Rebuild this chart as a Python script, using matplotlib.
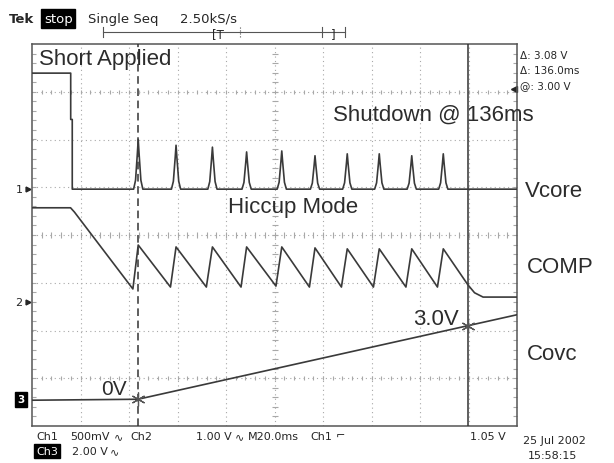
import matplotlib.pyplot as plt
from matplotlib.lines import Line2D
import numpy as np

W, H = 614, 464

# screen: 10 x 8 divisions, 20 ms/div
time_span = [0.0, 200.0]
div_span = [-4.0, 4.0]

# volts/div and ground marker (divisions from centre) for each channel
volts_per_div = {"vcore": 0.5, "comp": 1.0, "covc": 2.0}
ground_div = {"vcore": 0.96, "comp": -1.40, "covc": -3.44}

# cursors (ms)
cursor_t = [43.7, 179.7]

# Ch1 Vcore: level before / at the short, then hiccup spikes
vcore_step_t = [0.0, 15.96, 15.96, 16.6, 16.6]
vcore_step_v = [1.215, 1.215, 0.73, 0.73, 0.0]
spike_t = [43.8, 59.4, 74.4, 88.5, 103.0, 116.7, 130.0, 143.2, 156.6, 169.6]
spike_v = [0.52, 0.46, 0.44, 0.39, 0.40, 0.35, 0.37, 0.37, 0.35, 0.37]

# Ch2 COMP: flat, then sawtooth, then settles
comp_head_t = [0.0, 15.9, 17.5]
comp_head_v = [1.97, 1.97, 1.88]
comp_trough_t = [41.6, 57.1, 71.9, 86.2, 100.6, 114.4, 127.6, 140.8, 154.2, 167.2]
comp_trough_v = [0.27, 0.31, 0.31, 0.31, 0.33, 0.31, 0.31, 0.31, 0.31, 0.31]
comp_peak_v = [1.19, 1.15, 1.15, 1.15, 1.15, 1.13, 1.11, 1.11, 1.11, 1.11]
comp_tail_t = [179.7, 182.5, 186.0, 200.0]
comp_tail_v = [0.36, 0.19, 0.10, 0.10]

# Ch3 Covc ramp
covc_t = [0.0, 43.7, 179.7, 200.0]
covc_v = [-0.04, 0.0, 3.08, 3.54]

TRACE = "#3a3a3a"
GRID = "#a8a8a8"
INK = "#262626"


def to_div(volts, ch):
    return ground_div[ch] + np.asarray(volts) / volts_per_div[ch]


def fx(px):
    return px / W


def fy(py):
    return 1.0 - py / H


def vcore_trace():
    t = list(vcore_step_t)
    v = list(vcore_step_v)
    shape = [(-1.9, 0.0), (-1.1, 0.18), (-0.35, 0.72), (0.0, 1.0),
             (0.35, 0.72), (1.1, 0.18), (1.9, 0.0)]
    for ts, pk in zip(spike_t, spike_v):
        for dt, f in shape:
            t.append(ts + dt)
            v.append(pk * f)
    t.append(time_span[1])
    v.append(0.0)
    return np.array(t), np.array(v)


def comp_trace():
    t = list(comp_head_t)
    v = list(comp_head_v)
    for tt, tv, pt, pv in zip(comp_trough_t, comp_trough_v, spike_t, comp_peak_v):
        t += [tt, pt]
        v += [tv, pv]
    t += comp_tail_t
    v += comp_tail_v
    return np.array(t), np.array(v)


fig = plt.figure(figsize=(W / 100, H / 100), dpi=100)
fig.patch.set_facecolor("white")
ax = fig.add_axes([fx(32), fy(427), 485 / W, 382 / H])
ax.set_xlim(time_span)
ax.set_ylim(div_span)
ax.set_xticks([])
ax.set_yticks([])
for sp in ax.spines.values():
    sp.set_color("#555555")
    sp.set_linewidth(1.1)

# graticule
for x in np.arange(20, 200, 20):
    ax.axvline(x, color=GRID, lw=0.8, ls=(0, (1, 3)), zorder=1)
for y in np.arange(-3, 4, 1):
    ax.axhline(y, color=GRID, lw=0.8, ls=(0, (1, 3)), zorder=1)
minor_x = np.arange(4, 200, 4)
minor_y = np.arange(-3.8, 4, 0.2)
ax.plot(minor_x, np.zeros_like(minor_x), ls="none", marker="|", ms=4, color=GRID, mew=0.8)
ax.plot(np.full_like(minor_y, 100.0), minor_y, ls="none", marker="_", ms=4, color=GRID, mew=0.8)
ax.plot(minor_x, np.full_like(minor_x, 3.96), ls="none", marker="|", ms=3, color=GRID, mew=0.8)
ax.plot(minor_x, np.full_like(minor_x, -3.96), ls="none", marker="|", ms=3, color=GRID, mew=0.8)
ax.plot(np.full_like(minor_y, 0.8), minor_y, ls="none", marker="_", ms=3, color=GRID, mew=0.8)
ax.plot(np.full_like(minor_y, 199.2), minor_y, ls="none", marker="_", ms=3, color=GRID, mew=0.8)

# cursors
ax.axvline(cursor_t[0], color="#333333", lw=1.1, ls=(0, (5, 3)), zorder=3)
ax.axvline(cursor_t[1], color="#333333", lw=1.1, zorder=3)

# traces
t1, v1 = vcore_trace()
ax.plot(t1, to_div(v1, "vcore"), color=TRACE, lw=1.2, zorder=4)
t2, v2 = comp_trace()
ax.plot(t2, to_div(v2, "comp"), color=TRACE, lw=1.2, zorder=4)
ax.plot(covc_t, to_div(covc_v, "covc"), color=TRACE, lw=1.2, zorder=4)
ax.plot(cursor_t, to_div([covc_v[1], covc_v[2]], "covc"), ls="none",
        marker=(6, 2, 0), ms=10, mew=0.9, color="#555555", zorder=5)

# trigger level marker on right edge
ax.plot([198.8], [to_div(1.05, "vcore")], marker="<", ms=4, color=INK, clip_on=False)

# channel ground markers on the left
for lab, ch in (("1", "vcore"), ("2", "comp")):
    yd = to_div(0.0, ch)
    ax.annotate(lab, xy=(0, yd), xytext=(-13, 0), textcoords="offset pixels",
                ha="center", va="center", fontsize=8, color=INK,
                family="DejaVu Sans", annotation_clip=False)
    ax.plot([-1.5], [yd], marker=">", ms=3.5, color=INK, clip_on=False)
y3 = to_div(0.0, "covc")
ax.annotate("3", xy=(0, y3), xytext=(-11, 0), textcoords="offset pixels",
            ha="center", va="center", fontsize=7.5, color="white", fontweight="bold",
            annotation_clip=False,
            bbox=dict(boxstyle="square,pad=0.25", fc="black", ec="black"))

# annotations
big = dict(family="Liberation Sans", fontsize=16, color="#2c2c2c", va="baseline")
fig.text(fx(39), fy(65), "Short Applied", **big)
fig.text(fx(333), fy(121), "Shutdown @ 136ms", **big)
fig.text(fx(228), fy(213), "Hiccup Mode", **big)
fig.text(fx(525), fy(197), "Vcore", **big)
fig.text(fx(527), fy(273), "COMP", **big)
fig.text(fx(527), fy(360), "Covc", **big)
fig.text(fx(101), fy(395), "0V", **dict(big, fontsize=15))
fig.text(fx(413), fy(325), "3.0V", **big)

# scope readouts
small = dict(family="DejaVu Sans", fontsize=9.5, color=INK, va="baseline")
fig.text(fx(9), fy(23), "Tek", **dict(small, fontweight="bold"))
fig.text(fx(44), fy(23), "stop", **dict(small, color="white",
         bbox=dict(boxstyle="square,pad=0.2", fc="black", ec="black")))
fig.text(fx(88), fy(23), "Single Seq", **small)
fig.text(fx(180), fy(23), "2.50kS/s", **small)

# record bar
bar = dict(color="#555555", lw=0.8, transform=fig.transFigure)
fig.add_artist(Line2D([fx(103), fx(345)], [fy(33), fy(33)], **bar))
for xp in (103, 322, 345):
    fig.add_artist(Line2D([fx(xp), fx(xp)], [fy(28), fy(38)], **bar))
fig.add_artist(Line2D([fx(240), fx(240)], [fy(28), fy(38)], ls=":", **bar))
fig.text(fx(212), fy(38), "[T", **dict(small, fontsize=8.5))
fig.text(fx(331), fy(38), "]", **dict(small, fontsize=8.5))

meas = dict(family="DejaVu Sans", fontsize=7.5, color=INK, va="center")
fig.text(fx(520), fy(56), "\u0394: 3.08 V", **meas)
fig.text(fx(520), fy(71), "\u0394: 136.0ms", **meas)
fig.text(fx(520), fy(86), "@: 3.00 V", **meas)

bot = dict(family="DejaVu Sans", fontsize=8, color=INK, va="center")
fig.text(fx(36), fy(437), "Ch1", **bot)
fig.text(fx(70), fy(437), "500mV", **bot)
fig.text(fx(114), fy(437), "\u223f", **bot)
fig.text(fx(130), fy(437), "Ch2", **bot)
fig.text(fx(196), fy(437), "1.00 V", **bot)
fig.text(fx(235), fy(437), "\u223f", **bot)
fig.text(fx(248), fy(437), "M20.0ms", **bot)
fig.text(fx(310), fy(437), "Ch1", **bot)
fig.text(fx(336), fy(437), "\u2310", **bot)
fig.text(fx(470), fy(437), "1.05 V", **bot)
fig.text(fx(36), fy(452), "Ch3", **dict(bot, color="white",
         bbox=dict(boxstyle="square,pad=0.15", fc="black", ec="black")))
fig.text(fx(72), fy(452), "2.00 V", **bot)
fig.text(fx(110), fy(452), "\u223f", **bot)
fig.text(fx(523), fy(441), "25 Jul 2002", **bot)
fig.text(fx(528), fy(456), "15:58:15", **bot)

fig.savefig("out.png", dpi=100, facecolor="white")
